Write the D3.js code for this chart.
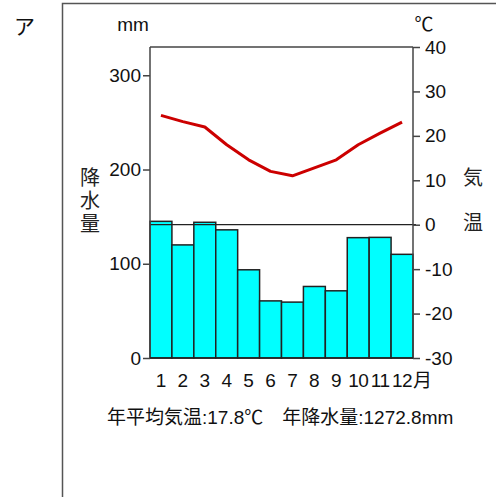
<!DOCTYPE html>
<html><head><meta charset="utf-8">
<script src="https://cdn.jsdelivr.net/npm/d3@7"></script>
<style>
html,body{margin:0;padding:0;background:#fff;}
svg{display:block;font-family:"Liberation Sans",Arial,sans-serif;}
</style></head>
<body>
<svg id="c" width="496" height="497"></svg>
<script>
const months = ["1","2","3","4","5","6","7","8","9","10","11","12"];
const precipitation = [145, 120, 144, 136, 93.6, 60.6, 59.3, 75.9, 71.3, 127.7, 128, 110];
const temperature = [24.6, 23.2, 22.0, 18.0, 14.6, 12.0, 11.0, 12.8, 14.6, 18.0, 20.6, 23.1];
const precipTicks = [0, 100, 200, 300];
const tempTicks = [-30, -20, -10, 0, 10, 20, 30, 40];
const title = "ア";
const precipLabel = "降水量";
const tempLabel = "気温";
const summary = "年平均気温:17.8℃　年降水量:1272.8mm";

const svg = d3.select("#c");
const L = 150, R = 413, T = 47, B = 358;
const FS = 19;
const cjk = '"Noto Sans CJK JP",sans-serif';
const x = d3.scaleBand().domain(months).range([L, R]).padding(0);
const yP = d3.scaleLinear().domain([0, 330]).range([B, T]);
const yT = d3.scaleLinear().domain([-30, 40]).range([B, T]);

// outer frame
svg.append("path").attr("d", "M62.5,497V3.5H496").attr("fill","none").attr("stroke","#555").attr("stroke-width",1.5);
svg.append("text").attr("x", 14).attr("y", 34).attr("font-size", 21)
  .attr("font-family", cjk).attr("fill","#111").text(title);

// bars
svg.append("g").selectAll("rect").data(precipitation).join("rect")
  .attr("x", (d,i) => x(months[i]))
  .attr("y", d => yP(d))
  .attr("width", x.bandwidth())
  .attr("height", d => yP(0) - yP(d))
  .attr("fill", "#00ffff").attr("stroke", "#222").attr("stroke-width", 1.5);

// zero temperature line
svg.append("line").attr("x1", L).attr("x2", R + 3).attr("y1", yT(0)).attr("y2", yT(0))
  .attr("stroke", "#222").attr("stroke-width", 1.3);

// frame top
svg.append("line").attr("x1", L).attr("x2", R).attr("y1", T).attr("y2", T).attr("stroke","#444").attr("stroke-width",1.5);

// temperature line
svg.append("path").datum(temperature)
  .attr("d", d3.line().x((d,i) => x(months[i]) + x.bandwidth()/2).y(d => yT(d)))
  .attr("fill","none").attr("stroke","#cc0000").attr("stroke-width",3).attr("stroke-linejoin","round");

// axes
const axL = svg.append("g").attr("transform", `translate(${L},0)`)
  .call(d3.axisLeft(yP).tickValues(precipTicks).tickFormat(d => String(d)).tickSize(7).tickPadding(2));
const axR = svg.append("g").attr("transform", `translate(${R},0)`)
  .call(d3.axisRight(yT).tickValues(tempTicks).tickFormat(d => String(d)).tickSize(7).tickPadding(5));
[axL, axR].forEach(a => {
  a.select(".domain").attr("stroke","#444").attr("stroke-width",1.5);
  a.selectAll(".tick line").attr("stroke","#444").attr("stroke-width",1.5);
  a.selectAll(".tick text").attr("font-size",FS).attr("fill","#111")
    .attr("font-family",'"Liberation Sans",Arial,sans-serif');
});
axL.select(".domain").attr("d", `M0,${B}V${T}`);
axR.select(".domain").attr("d", `M0,${B}V${T}`);
// bottom line
svg.append("line").attr("x1", L).attr("x2", R).attr("y1", B).attr("y2", B).attr("stroke","#222").attr("stroke-width",1.5);

// month labels
svg.append("g").selectAll("text").data(months).join("text")
  .attr("x", d => x(d) + x.bandwidth()/2)
  .attr("y", 386.5).attr("text-anchor","middle").attr("font-size",FS).attr("fill","#111")
  .attr("letter-spacing", d => d.length > 1 ? -0.5 : 0)
  .text(d => d);
svg.append("text").attr("x", x("12") + x.bandwidth()/2 + 11).attr("y", 386.5)
  .attr("font-size",FS).attr("fill","#111").attr("font-family",cjk).text("月");

// units
svg.append("text").attr("x", 133).attr("y", 31).attr("text-anchor","middle").attr("font-size",FS).attr("fill","#111").text("mm");
svg.append("text").attr("x", 424).attr("y", 31).attr("text-anchor","middle").attr("font-size",19).attr("fill","#111")
  .attr("font-family",cjk).text("℃");

// vertical labels
svg.append("text").attr("x", 90).attr("y", 167).attr("writing-mode","vertical-rl")
  .attr("font-size",20).attr("letter-spacing",3).attr("fill","#222").attr("font-family",cjk).text(precipLabel);
svg.append("text").attr("x", 473).attr("y", 167).attr("writing-mode","vertical-rl")
  .attr("font-size",20).attr("letter-spacing",25).attr("fill","#222").attr("font-family",cjk).text(tempLabel);

// summary
svg.append("text").attr("x", 107).attr("y", 424).attr("text-anchor","start")
  .attr("font-size",FS).attr("fill","#111").attr("font-family",'"Liberation Sans","Noto Sans CJK JP",sans-serif').text(summary);
</script>
</body></html>
